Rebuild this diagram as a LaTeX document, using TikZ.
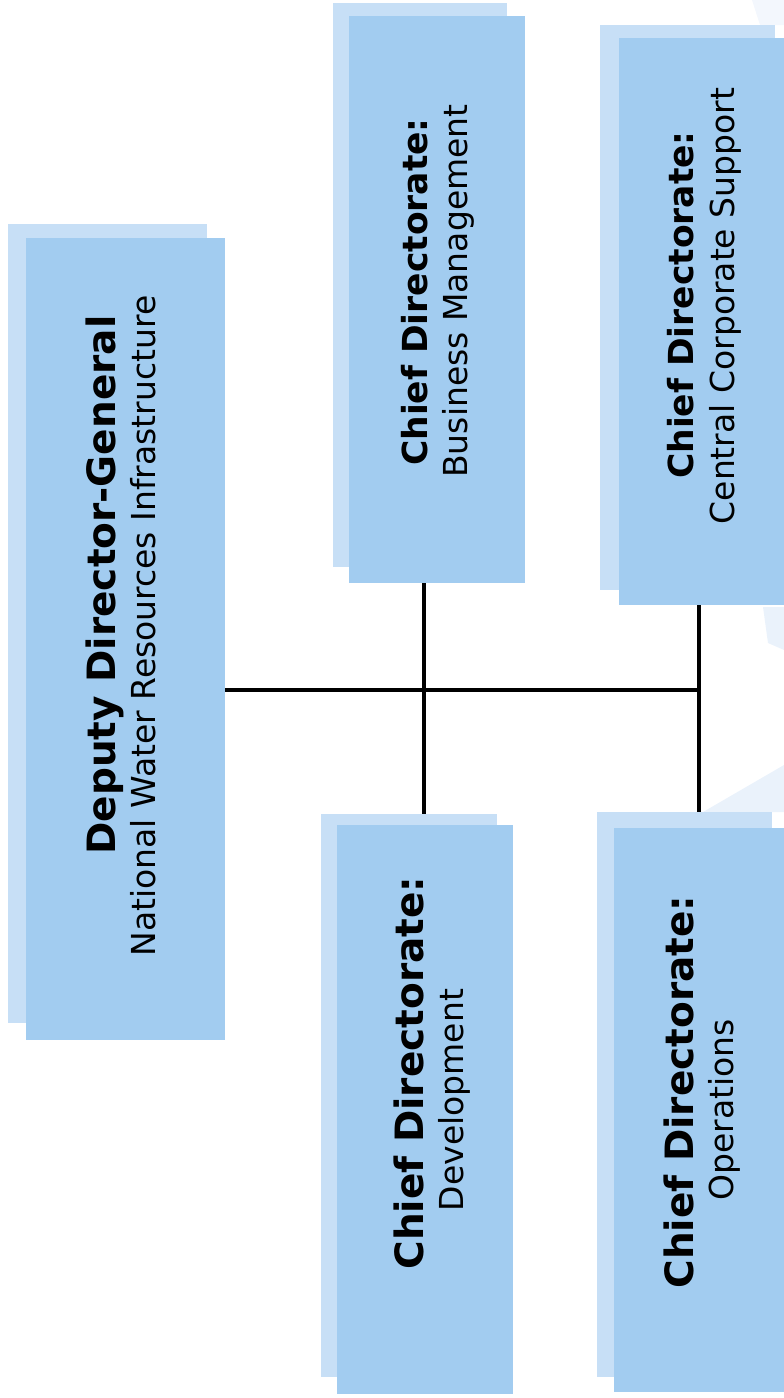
\documentclass[tikz,border=0pt]{standalone}
\usepackage{fontspec}
\setmainfont{DejaVu Sans}
\usetikzlibrary{fit}
\definecolor{boxblue}{RGB}{162,204,240}
\definecolor{shadeblue}{RGB}{199,223,246}
\definecolor{bgblue}{RGB}{234,242,251}
\begin{document}
\begin{tikzpicture}[x=1pt,y=-1pt]
% Styles
\tikzset{mainbox/.style={fill=boxblue,draw=none,inner sep=0pt,outer sep=0pt},
shadowbox/.style={fill=shadeblue,draw=none,inner sep=0pt,outer sep=0pt},
headtxt/.style={rotate=90,anchor=base,font=\fontsize{#1}{40}\selectfont\bfseries},
headtxt/.default=34.5,
subtxt/.style={rotate=90,anchor=base,font=\fontsize{33}{40}\selectfont},
link/.style={line width=4.5pt,black}}
% Frame
\useasboundingbox (0,0) rectangle (784,1398);
\clip (0,0) rectangle (784,1398);

% faint background at the right
\fill[bgblue] (763,607) -- (784,607) -- (784,650) -- (768,643) -- cycle;
\fill[bgblue] (703,812) -- (784,765) -- (784,812) -- cycle;
\fill[bgblue!60] (752,0) -- (784,0) -- (784,25) -- (760,25) -- cycle;

% the boxes -- shadow
\foreach \n/\xa/\ya/\xb/\yb in {ddg/8/224/207/1023, bm/333/3/507/567,
  ccs/600/25/775/590, dev/321/814/497/1377, ops/597/812/772/1377} {
\node[shadowbox,fit={(\xa,\ya) (\xb,\yb)}] (\n-sh) {};
}
% the boxes -- main
\foreach \n/\xa/\ya/\xb/\yb in {ddg/26/238/225/1040, bm/349/16/525/583,
  ccs/619/38/790/605, dev/337/825/513/1394, ops/614/828/790/1392} {
\node[mainbox,fit={(\xa,\ya) (\xb,\yb)}] (\n) {};
}

% the texts
\node[headtxt=39] (ddg-head) at (115,585) {Deputy Director-General};
\node[subtxt] (ddg-sub) at (155,626) {National Water Resources Infrastructure};
\node[headtxt] (bm-head) at (427,292) {Chief Directorate:};
\node[subtxt] (bm-sub) at (467,291) {Business Management};
\node[headtxt] (ccs-head) at (693,305) {Chief Directorate:};
\node[subtxt] (ccs-sub) at (734,306) {Central Corporate Support};
\node[headtxt=39] (dev-head) at (423,1073) {Chief Directorate:};
\node[subtxt] (dev-sub) at (463,1100) {Development};
\node[headtxt=39] (ops-head) at (693,1092) {Chief Directorate:};
\node[subtxt] (ops-sub) at (733,1110) {Operations};

% the connectors
\coordinate (jA) at (424,690);
\coordinate (jB) at (699,690);
\draw[link] (ddg.east |- jA) -- (jB);
\draw[link] (jA |- bm.south) -- (jA |- dev-sh.north);
\draw[link] (jB |- ccs.south) -- (jB |- ops-sh.north);
\end{tikzpicture}
\end{document}
